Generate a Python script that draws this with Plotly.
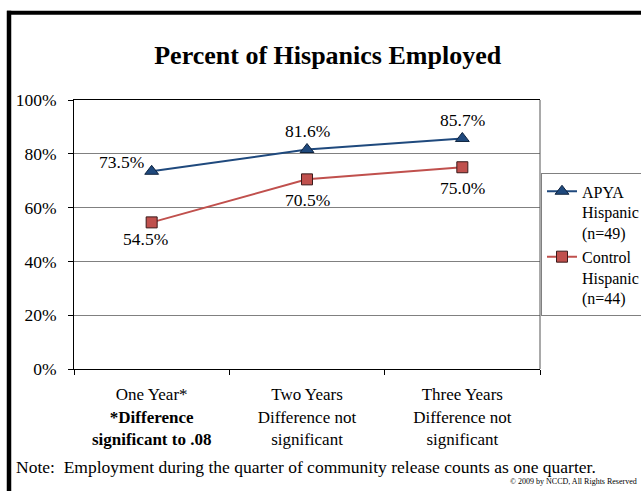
import plotly.graph_objects as go

# ---- data ----
categories = ["One Year", "Two Years", "Three Years"]
category_labels = [
    "One Year*<br><b>*Difference</b><br><b>significant to .08</b>",
    "Two Years<br>Difference not<br>significant",
    "Three Years<br>Difference not<br>significant",
]
apya_values = [0.735, 0.816, 0.857]
control_values = [0.545, 0.705, 0.750]
apya_name = "APYA<br>Hispanic<br>(n=49)"
control_name = "Control<br>Hispanic<br>(n=44)"
y_ticks = [0, 0.2, 0.4, 0.6, 0.8, 1.0]

# ---- layout geometry (pixels) ----
W, H = 641, 491
L, R, T, B = 74, 101, 99.5, 122
PW, PH = W - L - R, H - T - B

def px_x(px):
    return (px - L) / PW

def px_y(py):
    return (H - B - py) / PH

FONT = "Liberation Serif, Times New Roman, serif"
FS = 17.5
BLUE = "#1F497D"
RED = "#C0504D"

fig = go.Figure()
fig.add_trace(go.Scatter(
    x=categories, y=apya_values, name=apya_name, mode="lines+markers",
    line=dict(color=BLUE, width=2),
    marker=dict(symbol="triangle-up", size=12, color=BLUE,
                line=dict(color="#10243F", width=1)),
))
fig.add_trace(go.Scatter(
    x=categories, y=control_values, name=control_name, mode="lines+markers",
    line=dict(color=RED, width=2),
    marker=dict(symbol="square", size=11, color=RED,
                line=dict(color="#3A1A1A", width=1)),
))

# value labels, offset from each point
apya_offsets = [(-30, 9), (0, 19), (0, 18)]
control_offsets = [(-6, -17), (0, -21), (0, -21)]
annotations = []
for vals, offs in ((apya_values, apya_offsets), (control_values, control_offsets)):
    for cat, v, (dx, dy) in zip(categories, vals, offs):
        annotations.append(dict(
            x=cat, y=v, xref="x", yref="y", text=f"{v*100:.1f}%",
            showarrow=False, xshift=dx, yshift=dy,
            font=dict(family=FONT, size=FS, color="black"),
        ))

annotations.append(dict(
    x=px_x(14), y=px_y(467), xref="paper", yref="paper", xanchor="left",
    yanchor="middle", showarrow=False,
    text="Note:  Employment during the quarter of community release counts as one quarter.",
    font=dict(family=FONT, size=FS, color="black"),
))
annotations.append(dict(
    x=px_x(639), y=px_y(482), xref="paper", yref="paper", xanchor="right",
    yanchor="middle", showarrow=False,
    text="© 2009 by NCCD, All Rights Reserved",
    font=dict(family=FONT, size=8, color="black"),
))

shapes = [
    # slide frame: top and left edges
    dict(type="line", xref="paper", yref="paper", x0=px_x(7), x1=px_x(645),
         y0=px_y(12), y1=px_y(12), line=dict(color="black", width=4)),
    dict(type="line", xref="paper", yref="paper", x0=px_x(9), x1=px_x(9),
         y0=px_y(10), y1=px_y(495), line=dict(color="black", width=4.5)),
    # right edge of the plot box
    dict(type="line", xref="paper", yref="paper", x0=1, x1=1, y0=0, y1=1,
         line=dict(color="#555555", width=1)),
]

fig.update_layout(
    width=W, height=H,
    margin=dict(l=L, r=R, t=T, b=B, autoexpand=False),
    paper_bgcolor="white", plot_bgcolor="white",
    font=dict(family=FONT, size=FS, color="black"),
    title=dict(text="<b>Percent of Hispanics Employed</b>",
               x=327.7 / W, xref="container", xanchor="center",
               y=1 - 55 / H, yref="container", yanchor="middle",
               font=dict(family=FONT, size=26, color="black")),
    showlegend=True,
    legend=dict(x=px_x(541), y=px_y(173), xanchor="left", yanchor="top",
                bgcolor="white", bordercolor="#808080", borderwidth=1,
                font=dict(family=FONT, size=16, color="black"),
                valign="top", itemwidth=30, tracegroupgap=0),
    annotations=annotations,
    shapes=shapes,
)

fig.update_xaxes(
    type="category", categoryorder="array", categoryarray=categories,
    tickmode="array", tickvals=categories, ticktext=category_labels,
    tickson="boundaries", ticks="outside", ticklen=5, tickcolor="black",
    showline=True, linecolor="black", linewidth=1, mirror=True,
    showgrid=False, zeroline=False, ticklabelstandoff=10,
    tickfont=dict(family=FONT, size=17, color="black"),
    range=[-0.5, 2.5],
)
fig.update_yaxes(
    range=[0, 1], tickmode="array", tickvals=y_ticks, tickformat=".0%",
    ticks="outside", ticklen=5, tickcolor="black",
    showline=True, linecolor="black", linewidth=1,
    showgrid=True, gridcolor="#808080", gridwidth=1, zeroline=False,
    ticklabelstandoff=8,
    tickfont=dict(family=FONT, size=FS, color="black"),
)

fig.write_html("out.html")
